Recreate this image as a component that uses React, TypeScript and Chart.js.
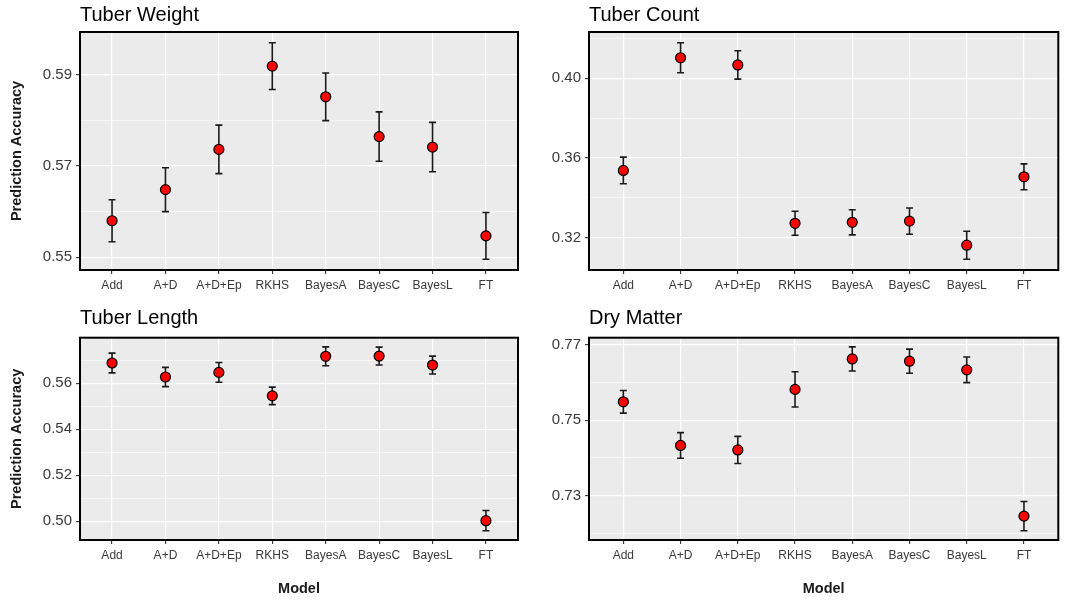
import React, { useEffect, useRef } from "react";
import { Chart, registerables } from "chart.js";
Chart.register(...registerables);

Chart.defaults.font.family = "'Liberation Sans', Arial, sans-serif";

// ---------------- data ----------------
const categories = ["Add", "A+D", "A+D+Ep", "RKHS", "BayesA", "BayesC", "BayesL", "FT"];

const weightMean = [0.558, 0.5648, 0.5736, 0.5918, 0.5851, 0.5764, 0.5741, 0.5547];
const weightErr = [0.0046, 0.0048, 0.0053, 0.0051, 0.0052, 0.0054, 0.0054, 0.0051];
const weightMajor = [0.55, 0.57, 0.59];
const weightMinor = [0.56, 0.58];

const countMean = [0.3538, 0.4103, 0.4067, 0.3273, 0.3278, 0.3284, 0.3163, 0.3506];
const countErr = [0.0067, 0.0075, 0.0071, 0.006, 0.0063, 0.0066, 0.007, 0.0065];
const countMajor = [0.32, 0.36, 0.4];
const countMinor = [0.34, 0.38, 0.42];

const lengthMean = [0.5688, 0.5627, 0.5647, 0.5545, 0.5717, 0.5718, 0.5679, 0.5002];
const lengthErr = [0.0043, 0.0042, 0.0043, 0.0038, 0.0041, 0.0039, 0.0039, 0.0044];
const lengthMajor = [0.5, 0.52, 0.54, 0.56];
const lengthMinor = [0.51, 0.53, 0.55, 0.57];

const dryMean = [0.7549, 0.7433, 0.7421, 0.7582, 0.7663, 0.7657, 0.7634, 0.7245];
const dryErr = [0.003, 0.0034, 0.0036, 0.0047, 0.0032, 0.0032, 0.0034, 0.0039];
const dryMajor = [0.73, 0.75, 0.77];
const dryMinor = [0.72, 0.74, 0.76];

// ---------------- helpers ----------------
const isIn = (v: number, arr: number[]) => arr.some((a) => Math.abs(a - v) < 1e-9);

const panelPlugin = {
  id: "panel",
  beforeDraw(chart: any) {
    const { ctx, chartArea: a } = chart;
    ctx.save();
    ctx.fillStyle = "#EBEBEB";
    ctx.fillRect(a.left, a.top, a.right - a.left, a.bottom - a.top);
    ctx.restore();
  },
  beforeDatasetsDraw(chart: any, _args: any, opts: any) {
    const { ctx } = chart;
    const xs = chart.scales.x;
    const ys = chart.scales.y;
    const mean: number[] = opts.mean || [];
    const err: number[] = opts.err || [];
    ctx.save();
    ctx.strokeStyle = "#1a1a1a";
    ctx.lineWidth = 1.6;
    mean.forEach((m, i) => {
      const x = xs.getPixelForValue(i);
      const y1 = ys.getPixelForValue(m - err[i]);
      const y2 = ys.getPixelForValue(m + err[i]);
      ctx.beginPath();
      ctx.moveTo(x, y1);
      ctx.lineTo(x, y2);
      ctx.moveTo(x - 3.5, y1);
      ctx.lineTo(x + 3.5, y1);
      ctx.moveTo(x - 3.5, y2);
      ctx.lineTo(x + 3.5, y2);
      ctx.stroke();
    });
    ctx.restore();
  },
  afterDraw(chart: any) {
    const { ctx, chartArea: a } = chart;
    ctx.save();
    ctx.strokeStyle = "#000";
    ctx.lineWidth = 2;
    ctx.strokeRect(a.left, a.top, a.right - a.left, a.bottom - a.top);
    ctx.restore();
  },
};

type PanelProps = {
  left: number;
  top: number;
  width: number;
  height: number;
  title: string;
  mean: number[];
  err: number[];
  major: number[];
  minor: number[];
  showYTitle: boolean;
  showXTitle: boolean;
  yWidth: number;
  xHeight: number;
  padRight: number;
  titlePadTop: number;
  titlePadBottom: number;
};

function Panel(p: PanelProps) {
  const ref = useRef<HTMLCanvasElement>(null);
  useEffect(() => {
    const lo = Math.min(...p.mean.map((m, i) => m - p.err[i]));
    const hi = Math.max(...p.mean.map((m, i) => m + p.err[i]));
    const ex = (hi - lo) * 0.05;
    const allTicks = [...p.major, ...p.minor].sort((a, b) => a - b);
    const chart = new Chart(ref.current as HTMLCanvasElement, {
      type: "scatter",
      data: {
        datasets: [
          {
            data: p.mean.map((v, i) => ({ x: i, y: v })),
            pointRadius: 5,
            pointHoverRadius: 5,
            pointBackgroundColor: "#FF0000",
            pointBorderColor: "#000000",
            pointBorderWidth: 1.2,
            showLine: false,
          },
        ],
      },
      options: {
        animation: false,
        responsive: false,
        events: [],
        layout: { padding: { left: 0, right: p.padRight, top: 0, bottom: 0 } },
        plugins: {
          legend: { display: false },
          tooltip: { enabled: false },
          title: {
            display: true,
            text: p.title,
            align: "start",
            fullSize: false,
            color: "#000000",
            font: { size: 20, weight: "normal" },
            padding: { top: p.titlePadTop, bottom: p.titlePadBottom },
          },
          // @ts-ignore
          panel: { mean: p.mean, err: p.err },
        },
        scales: {
          x: {
            type: "linear",
            min: -0.6,
            max: categories.length - 1 + 0.6,
            afterBuildTicks: (scale: any) => {
              scale.ticks = categories.map((_, i) => ({ value: i }));
            },
            afterFit: (scale: any) => {
              scale.height = p.xHeight;
            },
            ticks: {
              autoSkip: false,
              maxRotation: 0,
              padding: 4,
              color: "#3a3a3a",
              font: { size: 12 },
              callback: (v: any) => categories[Math.round(Number(v))] ?? "",
            },
            grid: {
              color: "#FFFFFF",
              lineWidth: 1.2,
              tickLength: 4,
              tickColor: "#333333",
              tickWidth: 1.1,
            },
            border: { display: false },
            title: {
              display: p.showXTitle,
              text: "Model",
              color: "#1a1a1a",
              font: { size: 14.5, weight: "bold" },
              padding: { top: 0, bottom: 2.6 },
            },
          },
          y: {
            type: "linear",
            min: lo - ex,
            max: hi + ex,
            afterBuildTicks: (scale: any) => {
              scale.ticks = allTicks.map((v) => ({ value: v }));
            },
            afterFit: (scale: any) => {
              scale.width = p.yWidth;
            },
            ticks: {
              autoSkip: false,
              padding: 4,
              color: "#3a3a3a",
              font: { size: 15 },
              callback: (v: any) => (isIn(Number(v), p.major) ? Number(v).toFixed(2) : ""),
            },
            grid: {
              color: "#FFFFFF",
              lineWidth: (c: any) => (isIn(c.tick?.value, p.major) ? 1.2 : 0.6),
              tickLength: 4,
              tickColor: (c: any) => (isIn(c.tick?.value, p.major) ? "#333333" : "rgba(0,0,0,0)"),
              tickWidth: 1.1,
            },
            border: { display: false },
            title: {
              display: p.showYTitle,
              text: "Prediction Accuracy",
              color: "#1a1a1a",
              font: { size: 14.5, weight: "bold" },
              padding: { top: 8, bottom: 0 },
            },
          },
        },
      } as any,
      plugins: [panelPlugin as any],
    });
    return () => chart.destroy();
  }, []);
  return (
    <canvas
      ref={ref}
      width={p.width}
      height={p.height}
      style={{ position: "absolute", left: p.left, top: p.top, width: p.width, height: p.height }}
    />
  );
}

export default function App() {
  return (
    <div style={{ position: "absolute", left: 0, top: 0, width: 1084, height: 600, background: "#FFFFFF" }}>
      <Panel
        left={0} top={0} width={540} height={300}
        title="Tuber Weight" mean={weightMean} err={weightErr} major={weightMajor} minor={weightMinor}
        showYTitle={true} showXTitle={false} yWidth={80} xHeight={30} padRight={22}
        titlePadTop={3} titlePadBottom={5}
      />
      <Panel
        left={540} top={0} width={544} height={300}
        title="Tuber Count" mean={countMean} err={countErr} major={countMajor} minor={countMinor}
        showYTitle={false} showXTitle={false} yWidth={49} xHeight={30} padRight={25.7}
        titlePadTop={3} titlePadBottom={5}
      />
      <Panel
        left={0} top={300} width={540} height={300}
        title="Tuber Length" mean={lengthMean} err={lengthErr} major={lengthMajor} minor={lengthMinor}
        showYTitle={true} showXTitle={true} yWidth={80} xHeight={60} padRight={22}
        titlePadTop={6.5} titlePadBottom={7.2}
      />
      <Panel
        left={540} top={300} width={544} height={300}
        title="Dry Matter" mean={dryMean} err={dryErr} major={dryMajor} minor={dryMinor}
        showYTitle={false} showXTitle={true} yWidth={49} xHeight={60} padRight={25.7}
        titlePadTop={6.5} titlePadBottom={7.2}
      />
    </div>
  );
}
